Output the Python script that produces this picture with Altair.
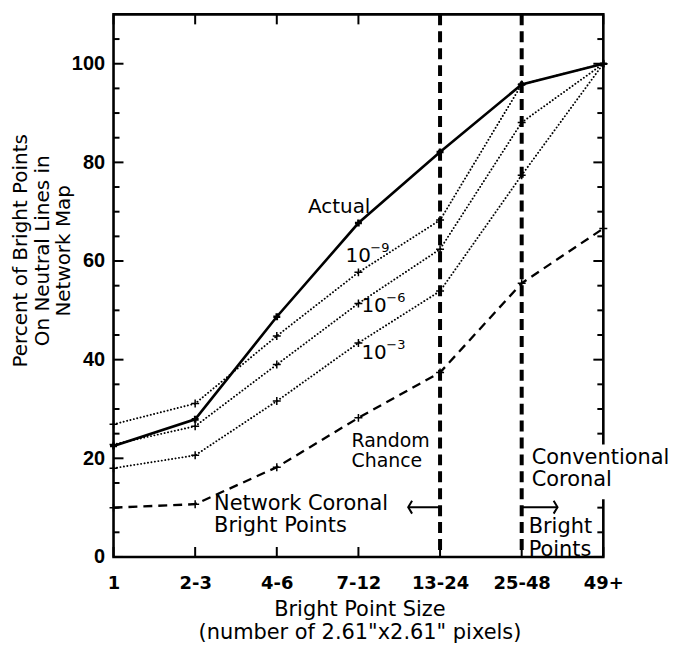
import altair as alt
import pandas as pd

# ---------------- data ----------------
categories = ["1", "2-3", "4-6", "7-12", "13-24", "25-48", "49+"]
actual = [22.5, 27.9, 48.7, 67.7, 82.1, 95.8, 100.0]
prob_1e9 = [26.9, 31.1, 44.8, 57.7, 68.3, 95.8, 100.0]
prob_1e6 = [22.8, 26.5, 39.0, 51.4, 62.4, 88.1, 100.0]
prob_1e3 = [18.0, 20.6, 31.6, 43.4, 53.9, 77.4, 100.0]
random_chance = [10.0, 10.7, 18.2, 28.2, 37.4, 55.5, 66.6]
boundary_categories = ["13-24", "25-48"]
y_major_ticks = [0, 20, 40, 60, 80, 100]
y_minor_ticks = [5, 10, 15, 25, 30, 35, 45, 50, 55, 65, 70, 75, 85, 90, 95, 105]

W, H = 492, 545
FONT = "DejaVu Sans"
PLUS = "M-1,0L1,0M0,-1L0,1"


def series_df(name, values):
    return pd.DataFrame({"cat": categories, "val": values, "series": name})


x_axis = alt.Axis(
    labelAngle=0, ticks=False, domain=False, grid=False,
    labelFont=FONT, labelFontSize=18, labelFontWeight="bold", labelColor="black",
    labelPadding=18, labelOverlap=False, labelBound=False,
    title=["Bright Point Size", '(number of 2.61"x2.61" pixels)'],
    titleFont=FONT, titleFontSize=21, titleFontWeight="normal", titleColor="black",
    titleX=247, titleY=59, titleAlign="center", titleBaseline="alphabetic",
    titleLineHeight=22.5,
)
y_axis = alt.Axis(
    values=y_major_ticks, ticks=False, domain=False, grid=False,
    labelFont="Liberation Sans", labelFontSize=20, labelFontWeight="bold",
    labelColor="black", labelPadding=9,
    title=["Percent of Bright Points", "On Neutral Lines in", "Network Map"],
    titleFont=FONT, titleFontSize=20, titleFontWeight="normal", titleColor="black",
    titleAngle=270, titleX=-87, titleY=237, titleAlign="center",
    titleBaseline="alphabetic", titleLineHeight=21.5,
)
x_enc = alt.X("cat:O", scale=alt.Scale(type="point", domain=categories, padding=0), axis=x_axis)
y_enc = alt.Y("val:Q", scale=alt.Scale(domain=[0, 110], nice=False, zero=True), axis=y_axis)

layers = []

# inward ticks (frame decoration)
maj = pd.DataFrame({"val": y_major_ticks})
mnr = pd.DataFrame({"val": y_minor_ticks})
for d, ln in ((maj, 10), (mnr, 6)):
    layers.append(alt.Chart(d).mark_rule(color="black", strokeWidth=2).encode(
        x=alt.value(0), x2=alt.value(ln), y=y_enc))
    layers.append(alt.Chart(d).mark_rule(color="black", strokeWidth=2).encode(
        x=alt.value(W), x2=alt.value(W - ln), y=y_enc))
cat_df = pd.DataFrame({"cat": categories})
layers.append(alt.Chart(cat_df).mark_rule(color="black", strokeWidth=2).encode(
    x=x_enc, y=alt.value(H), y2=alt.value(H - 10)))
layers.append(alt.Chart(cat_df).mark_rule(color="black", strokeWidth=2).encode(
    x=x_enc, y=alt.value(0), y2=alt.value(10)))

# white box behind "Conventional Coronal" label (breaks the right frame)
layers.append(alt.Chart(pd.DataFrame({"a": [0]})).mark_rect(color="white").encode(
    x=alt.value(417), x2=alt.value(520), y=alt.value(432), y2=alt.value(487)))

# vertical boundaries
layers.append(alt.Chart(pd.DataFrame({"cat": boundary_categories})).mark_rule(
    color="black", strokeWidth=4, strokeDash=[11, 6]).encode(
    x=x_enc, y=alt.value(0), y2=alt.value(H)))

# series
dotted = pd.concat([series_df("1e-9", prob_1e9), series_df("1e-6", prob_1e6),
                    series_df("1e-3", prob_1e3)])
layers.append(alt.Chart(dotted).mark_line(
    color="black", strokeWidth=1.9, strokeDash=[0.1, 3.4], strokeCap="round").encode(
    x=x_enc, y=y_enc, detail="series:N"))
layers.append(alt.Chart(dotted).mark_point(
    shape=PLUS, size=64, filled=False, color="black", strokeWidth=1.5, opacity=1).encode(
    x=x_enc, y=y_enc))

rnd = series_df("Random Chance", random_chance)
layers.append(alt.Chart(rnd).mark_line(
    color="black", strokeWidth=2.3, strokeDash=[9, 6]).encode(x=x_enc, y=y_enc))
layers.append(alt.Chart(rnd).mark_point(
    shape=PLUS, size=64, filled=False, color="black", strokeWidth=1.5, opacity=1).encode(
    x=x_enc, y=y_enc))

act = series_df("Actual", actual)
layers.append(alt.Chart(act).mark_line(color="black", strokeWidth=2.6).encode(
    x=x_enc, y=y_enc))
layers.append(alt.Chart(act).mark_point(
    shape=PLUS, size=49, filled=False, color="black", strokeWidth=2.6, opacity=1).encode(
    x=x_enc, y=y_enc))


def note(text, cat, y, dx, size, align="left", line_height=None, dy=2):
    kw = dict(align=align, baseline="middle", dx=dx, dy=dy, font=FONT, fontSize=size,
              color="black", lineBreak="\n")
    if line_height:
        kw["lineHeight"] = line_height
    d = pd.DataFrame({"cat": [cat], "val": [y], "t": [text]})
    return alt.Chart(d).mark_text(**kw).encode(x=x_enc, y=y_enc, text="t:N")


layers += [
    note("Actual", "7-12", 71.3, 12, 20, align="right"),
    # probability labels: base "10" with raised exponent
    note("10", "7-12", 61.4, -13, 20),
    note("\u22129", "7-12", 61.4, 12, 13, dy=-6),
    note("10", "7-12", 51.3, 3, 20),
    note("\u22126", "7-12", 51.3, 28, 13, dy=-6),
    note("10", "7-12", 41.7, 3, 20),
    note("\u22123", "7-12", 41.7, 28, 13, dy=-6),
    note("Random\nChance", "7-12", 23.9, -7, 19, line_height=20),
    note("Network Coronal\nBright Points", "2-3", 11.1, 19, 21, line_height=22),
    note("Conventional\nCoronal", "25-48", 20.5, 10, 21, line_height=22.5),
    note("Bright\nPoints", "25-48", 6.6, 7, 21, line_height=22.5, dy=3),
]

# arrows
arrow_y = 10.1
la = pd.DataFrame({"cat": ["13-24"], "val": [arrow_y]})
ra = pd.DataFrame({"cat": ["25-48"], "val": [arrow_y]})
layers.append(alt.Chart(la).mark_rule(color="black", strokeWidth=2).encode(
    x=x_enc, x2=alt.value(296), y=y_enc))
layers.append(alt.Chart(la).mark_point(
    shape="M0.6,-1L0,0L0.6,1", size=169, filled=False, color="black",
    strokeWidth=2, opacity=1).encode(x=alt.value(296), y=y_enc))
layers.append(alt.Chart(ra).mark_rule(color="black", strokeWidth=2).encode(
    x=x_enc, x2=alt.value(446), y=y_enc))
layers.append(alt.Chart(ra).mark_point(
    shape="M-0.6,-1L0,0L-0.6,1", size=169, filled=False, color="black",
    strokeWidth=2, opacity=1).encode(x=alt.value(446), y=y_enc))

chart = alt.layer(*layers).properties(
    width=W, height=H,
    autosize=alt.AutoSizeParams(type="none"),
    padding={"left": 106, "top": 5, "right": 72, "bottom": 86},
    background="white",
).configure_view(stroke="black", strokeWidth=2.6)

chart.save("out.html", embed_options={"renderer": "svg", "actions": False})
